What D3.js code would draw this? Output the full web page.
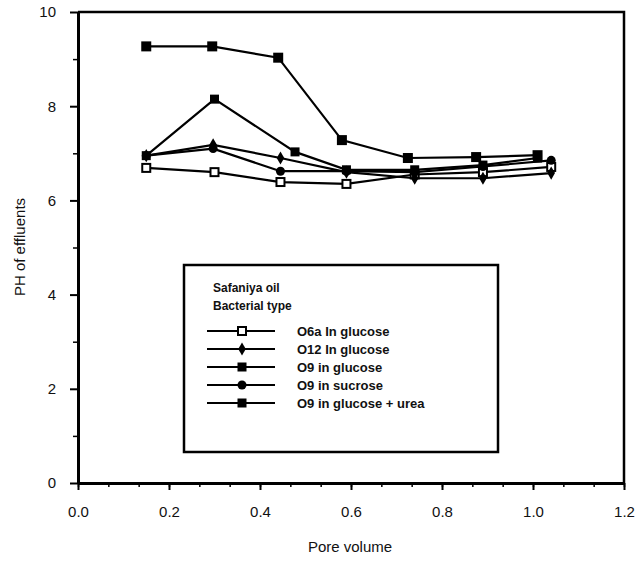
<!DOCTYPE html>
<html>
<head>
<meta charset="utf-8">
<script src="https://cdn.jsdelivr.net/npm/d3@7"></script>
<style>
  body { margin: 0; background: #fff; }
  svg text { font-family: "Liberation Sans", Arial, sans-serif; fill: #111; }
</style>
</head>
<body>
<script>
var width = 640,
    height = 563;

// data
var xO6a    = [0.15, 0.30, 0.445, 0.59, 0.74, 0.89, 1.04],
    yO6a    = [6.69, 6.60, 6.39, 6.35, 6.55, 6.60, 6.71];
var xO12    = [0.15, 0.297, 0.445, 0.59, 0.74, 0.89, 1.04],
    yO12    = [6.95, 7.18, 6.90, 6.60, 6.47, 6.47, 6.58];
var xO9g    = [0.15, 0.30, 0.477, 0.59, 0.74, 0.89, 1.01],
    yO9g    = [6.95, 8.15, 7.03, 6.65, 6.65, 6.75, 6.90];
var xO9s    = [0.15, 0.297, 0.445, 0.59, 0.74, 0.89, 1.04],
    yO9s    = [6.95, 7.10, 6.62, 6.62, 6.60, 6.72, 6.85];
var xUrea   = [0.15, 0.295, 0.44, 0.58, 0.725, 0.875, 1.01],
    yUrea   = [9.27, 9.27, 9.03, 7.28, 6.90, 6.92, 6.96];

var seriesNames = ["O6a In glucose", "O12 In glucose", "O9 in glucose", "O9 in sucrose", "O9 in glucose + urea"];
var seriesX = [xO6a, xO12, xO9g, xO9s, xUrea];
var seriesY = [yO6a, yO12, yO9g, yO9s, yUrea];
var seriesMarker = ["openSquare", "diamond", "square", "circle", "bigSquare"];

var xTicks = [0, 0.2, 0.4, 0.6, 0.8, 1.0, 1.2];
var yTicks = [0, 2, 4, 6, 8, 10];

var x = d3.scaleLinear().domain([0, 1.2]).range([78, 624]);
var y = d3.scaleLinear().domain([0, 10]).range([483, 12]);

var svg = d3.select("body").append("svg")
    .attr("width", width)
    .attr("height", height);

// frame (top and right)
svg.append("path")
    .attr("d", "M" + x(0) + "," + y(10) + "H" + x(1.2) + "V" + y(0))
    .attr("fill", "none")
    .attr("stroke", "#000")
    .attr("stroke-width", 2.5);

// x axis, minor ticks every 1/3 of a major step
var xMinor = d3.range(0, 1.2001, 0.2 / 3);
svg.append("g")
    .attr("transform", "translate(0," + y(0) + ")")
    .call(d3.axisBottom(x).tickValues(xMinor).tickSize(4).tickFormat(""))
    .call(function(g) { g.select(".domain").remove(); })
    .selectAll("line").attr("stroke-width", 1.5);

var xAxis = svg.append("g")
    .attr("transform", "translate(0," + y(0) + ")")
    .call(d3.axisBottom(x).tickValues(xTicks).tickSize(7).tickSizeOuter(0)
        .tickFormat(d3.format(".1f")));
xAxis.select(".domain").attr("stroke-width", 3);
xAxis.selectAll("line").attr("stroke-width", 2);
xAxis.selectAll("text")
    .attr("y", 23)
    .style("font-size", "15px")
    .style("font-family", "Liberation Sans, Arial, sans-serif");

// y axis
svg.append("g")
    .attr("transform", "translate(" + x(0) + ",0)")
    .call(d3.axisLeft(y).tickValues(d3.range(1, 10, 2)).tickSize(5).tickFormat(""))
    .call(function(g) { g.select(".domain").remove(); })
    .selectAll("line").attr("stroke-width", 1.5);

var yAxis = svg.append("g")
    .attr("transform", "translate(" + x(0) + ",0)")
    .call(d3.axisLeft(y).tickValues(yTicks).tickSize(8).tickSizeOuter(0));
yAxis.select(".domain").attr("stroke-width", 3);
yAxis.selectAll("line").attr("stroke-width", 2);
yAxis.selectAll("text")
    .attr("x", -22)
    .style("font-size", "15px")
    .style("font-family", "Liberation Sans, Arial, sans-serif");

// axis titles
svg.append("text")
    .attr("x", 350)
    .attr("y", 552)
    .attr("text-anchor", "middle")
    .style("font-size", "15px")
    .text("Pore volume");

svg.append("text")
    .attr("transform", "translate(25,247) rotate(-90)")
    .attr("text-anchor", "middle")
    .style("font-size", "15px")
    .text("PH of effluents");

function drawMarker(g, type, cx, cy) {
  if (type == "openSquare") {
    g.append("rect").attr("x", cx - 4).attr("y", cy - 4).attr("width", 8).attr("height", 8)
      .attr("fill", "#fff").attr("stroke", "#000").attr("stroke-width", 2);
  } else if (type == "square") {
    g.append("rect").attr("x", cx - 4.5).attr("y", cy - 4.5).attr("width", 9).attr("height", 9)
      .attr("fill", "#000");
  } else if (type == "bigSquare") {
    g.append("rect").attr("x", cx - 5).attr("y", cy - 5).attr("width", 10).attr("height", 10)
      .attr("fill", "#000");
  } else if (type == "diamond") {
    g.append("path").attr("d", d3.symbol().type(d3.symbolDiamond).size(50)())
      .attr("transform", "translate(" + cx + "," + cy + ")")
      .attr("fill", "#000");
  } else {
    g.append("circle").attr("cx", cx).attr("cy", cy).attr("r", 4.5).attr("fill", "#000");
  }
}

var line = d3.line()
    .x(function(d) { return x(d[0]); })
    .y(function(d) { return y(d[1]); });

var plot = svg.append("g");
seriesNames.forEach(function(name, i) {
  var pts = seriesX[i].map(function(v, j) { return [v, seriesY[i][j]]; });
  plot.append("path")
      .datum(pts)
      .attr("d", line)
      .attr("fill", "none")
      .attr("stroke", "#000")
      .attr("stroke-width", 2.2);
});
seriesNames.forEach(function(name, i) {
  seriesX[i].forEach(function(v, j) {
    drawMarker(plot, seriesMarker[i], x(v), y(seriesY[i][j]));
  });
});

// legend
var lg = svg.append("g");
lg.append("rect")
    .attr("x", 184).attr("y", 265)
    .attr("width", 314).attr("height", 187)
    .attr("fill", "#fff")
    .attr("stroke", "#000")
    .attr("stroke-width", 2.5);

lg.append("text").attr("x", 213).attr("y", 292)
    .style("font-size", "12px").style("font-weight", "bold").text("Safaniya oil");
lg.append("text").attr("x", 213).attr("y", 310)
    .style("font-size", "12px").style("font-weight", "bold").text("Bacterial type");

seriesNames.forEach(function(name, i) {
  var ly = 331 + i * 18;
  lg.append("line")
      .attr("x1", 207).attr("x2", 275)
      .attr("y1", ly).attr("y2", ly)
      .attr("stroke", "#000").attr("stroke-width", 2);
  drawMarker(lg, seriesMarker[i] == "bigSquare" ? "square" : seriesMarker[i], 242, ly);
  lg.append("text")
      .attr("x", 297).attr("y", ly + 4.5)
      .style("font-size", "13px").style("font-weight", "bold")
      .text(name);
});
</script>
</body>
</html>
